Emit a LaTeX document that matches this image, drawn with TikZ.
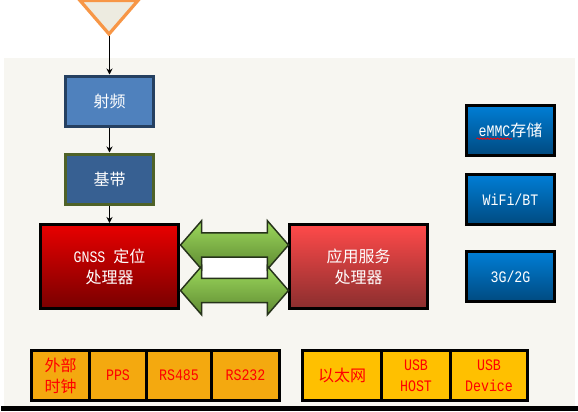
\documentclass[tikz,border=0pt]{standalone}
\usepackage{fontspec}
\setmainfont[FakeStretch=0.83]{Liberation Mono}
\newfontfamily\cjk{Noto Sans CJK SC}
\usetikzlibrary{arrows.meta,shapes.arrows,decorations.pathmorphing}
\newcommand{\zh}[1]{{\cjk\fontsize{12pt}{15.75pt}\selectfont #1}}
\definecolor{paper}{HTML}{F7F6F1}
\definecolor{antfill}{HTML}{EDEBE0}
\definecolor{antline}{HTML}{F79646}
\definecolor{rffill}{HTML}{4F81BD}
\definecolor{rfline}{HTML}{254061}
\definecolor{bbfill}{HTML}{376092}
\definecolor{bbline}{HTML}{4F6228}
\definecolor{blueA}{HTML}{007ED6}
\definecolor{blueB}{HTML}{004A80}
\definecolor{greenA}{HTML}{9CD95C}
\definecolor{greenB}{HTML}{5F8A32}
\definecolor{gnssA}{HTML}{E80000}
\definecolor{gnssB}{HTML}{780000}
\definecolor{appA}{HTML}{FF4A4A}
\definecolor{appB}{HTML}{8A2E2E}
\definecolor{cellA}{HTML}{F4A90F}
\definecolor{cellB}{HTML}{FFC000}
\definecolor{arrowline}{HTML}{26331A}
\tikzset{
  x=0.75pt,y=-0.75pt,
  every node/.style={font=\fontsize{12pt}{15.75pt}\selectfont,align=center,inner sep=0pt},
  rfbox/.style={draw=#1,line width=2.25pt,text=white,minimum width=66pt,minimum height=37.5pt},
  cpubox/.style={draw=black,line width=2.25pt,text=white,minimum width=103.5pt,minimum height=63pt},
  bluebox/.style={draw=black,line width=2.25pt,text=white,minimum width=66pt,minimum height=37.5pt,top color=blueA,bottom color=blueB},
  cell/.style={draw=black,line width=2.25pt,text=red,minimum height=37.5pt},
  wire/.style={draw=black,line width=1pt,-{Stealth[length=4.5pt,width=4.5pt]}},
  dblarrow/.style={shape=double arrow,draw=arrowline,line width=1.1pt,minimum height=81pt,inner ysep=8.6pt,
    double arrow head extend=9pt,double arrow head indent=0pt,double arrow tip angle=98,
    top color=greenA,bottom color=greenB}
}
\begin{document}
\begin{tikzpicture}
\useasboundingbox (0,0) rectangle (578,411);
\clip (0,0) rectangle (578,411);
\fill[white] (0,0) rectangle (578,411);
\fill[paper] (4,58) rectangle (575,406);
\fill[black] (1,406) rectangle (578,411);
% antenna
\draw[draw=antline,fill=antfill,line width=2.4pt,line join=miter] (80,0.5) -- (138,0.5) -- (109,34) -- cycle;
\coordinate (ant) at (109.5,35.5);
% RF and baseband
\node[rfbox=rfline,fill=rffill] (rf) at (109.5,101) {\zh{射频}};
\node[rfbox=bbline,fill=bbfill] (bb) at (109.5,179) {\zh{基带}};
% processors
\node[cpubox,top color=gnssA,bottom color=gnssB] (gnss) at (109.5,266.5) {GNSS \zh{定位}\\\zh{处理器}};
\node[cpubox,top color=appA,bottom color=appB] (app) at (358.5,266.5) {\zh{应用服务}\\\zh{处理器}};
% links between processors
\fill[white,draw=arrowline,line width=1.1pt] (201,257) rectangle (269,279);
\node[dblarrow] (linkA) at (234.5,245) {};
\node[dblarrow] (linkB) at (234.5,290.5) {};
% wires
\draw[wire] (ant) -- (rf.north);
\draw[wire] (rf.south) -- (bb.north);
\draw[wire] (bb.south) -- (gnss.north);
% right column
\node[bluebox] (emmc) at (510.5,130) {eMMC\zh{存储}};
\draw[red,line width=0.6pt,decorate,decoration={snake,amplitude=0.5pt,segment length=2.5pt}]
  ([xshift=-25.5pt,yshift=-6.5pt]emmc.center) -- ([xshift=1pt,yshift=-6.5pt]emmc.center);
\node[bluebox] (wifi) at (510.5,199.5) {WiFi/BT};
\node[bluebox] (net) at (510.5,276.5) {3G/2G};
% left interface group
\node[cell,fill=cellA,minimum width=43.5pt] (clk) at (60.5,375.5) {\zh{外部}\\\zh{时钟}};
\node[cell,fill=cellA,minimum width=42.75pt] (pps) at (118,375.5) {PPS};
\node[cell,fill=cellA,minimum width=48.75pt] (r485) at (179,375.5) {RS485};
\node[cell,fill=cellA,minimum width=51pt] (r232) at (245.5,375.5) {RS232};
% right interface group
\node[cell,fill=cellB,minimum width=59.25pt] (eth) at (342,375.5) {\zh{以太网}};
\node[cell,fill=cellB,minimum width=51.75pt] (host) at (416,375.5) {USB\\HOST};
\node[cell,fill=cellB,minimum width=57.75pt] (dev) at (489,375.5) {USB\\Device};
\end{tikzpicture}
\end{document}
